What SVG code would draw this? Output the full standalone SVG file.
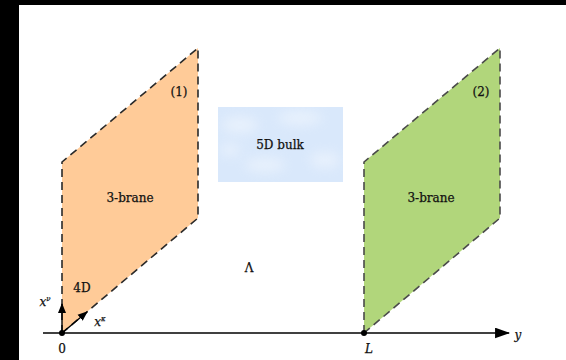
<svg xmlns="http://www.w3.org/2000/svg" width="566" height="360" viewBox="0 0 566 360">
<defs>
<style>
.t{font-family:"DejaVu Serif","Liberation Serif",serif;font-size:12px;fill:#111;text-anchor:middle;stroke:#111;stroke-width:0.25}
.it{font-style:italic}
.edge{fill:none;stroke:#2a2a2a;stroke-width:1.6;stroke-dasharray:8 5}
.axis{stroke:#000;stroke-width:1.4;fill:none}
</style>
<marker id="ah" viewBox="0 0 10 10" refX="9" refY="5" markerWidth="10" markerHeight="10" markerUnits="userSpaceOnUse" orient="auto">
<path d="M0,1 L10,5 L0,9 Z" fill="#000"/>
</marker>
<marker id="ahb" viewBox="0 0 14 10" refX="13" refY="5" markerWidth="15" markerHeight="11" markerUnits="userSpaceOnUse" orient="auto">
<path d="M0,0 L14,5 L0,10 Z" fill="#000"/>
</marker>
<filter id="blur" x="-20%" y="-20%" width="140%" height="140%"><feGaussianBlur stdDeviation="6"/></filter>
<clipPath id="bc"><rect x="218" y="107" width="125" height="75"/></clipPath>
</defs>
<rect width="566" height="360" fill="#000"/>
<rect x="19" y="5" width="547" height="355" fill="#fff"/>

<g id="bulk">
<rect x="218" y="107" width="125" height="75" fill="#d9e8fb"/>
<g clip-path="url(#bc)" filter="url(#blur)" fill="#ffffff" opacity="0.4">
<ellipse cx="240" cy="125" rx="18" ry="8"/>
<ellipse cx="300" cy="118" rx="22" ry="7"/>
<ellipse cx="265" cy="165" rx="20" ry="7"/>
<ellipse cx="325" cy="160" rx="15" ry="8"/>
<ellipse cx="230" cy="150" rx="10" ry="6"/>
</g>
<text class="t" x="280" y="149">5D bulk</text>
</g>

<g id="brane1">
<polygon points="62,333 62,162 198,48 198,218" fill="#ffcb98"/>
<polyline class="edge" points="62,333 62,162 198,48 198,218 62,333"/>
<text class="t" x="130" y="202">3-brane</text>
<text class="t" x="179" y="96">(1)</text>
<text class="t" x="82" y="292">4D</text>
</g>

<g id="brane2">
<polygon points="364,333 364,162 500,48 500,218" fill="#b1d67b"/>
<polyline class="edge" points="364,333 364,162 500,48 500,218 364,333" style="stroke:#4a4a4a"/>
<text class="t" x="431" y="202">3-brane</text>
<text class="t" x="481" y="96">(2)</text>
</g>

<g id="connectors">
<line class="axis" x1="43" y1="333" x2="509" y2="333" marker-end="url(#ahb)"/>
<line class="axis" x1="62" y1="333" x2="62" y2="304" marker-end="url(#ah)"/>
<line class="axis" x1="62" y1="333" x2="87" y2="312" marker-end="url(#ah)"/>
</g>

<g id="points">
<circle cx="62" cy="333" r="3" fill="#000"/>
<circle cx="364" cy="333" r="3" fill="#000"/>
</g>

<g id="labels">
<text class="t" x="62" y="353">0</text>
<text class="t it" x="369" y="353">L</text>
<text class="t it" x="518" y="339">y</text>
<text class="t" x="249" y="272">Λ</text>
<text class="t it" x="45" y="306">x<tspan font-size="7" dy="-5">ν</tspan></text>
<text class="t it" x="100" y="326">x<tspan font-size="7" dy="-5">κ</tspan></text>
</g>
</svg>
